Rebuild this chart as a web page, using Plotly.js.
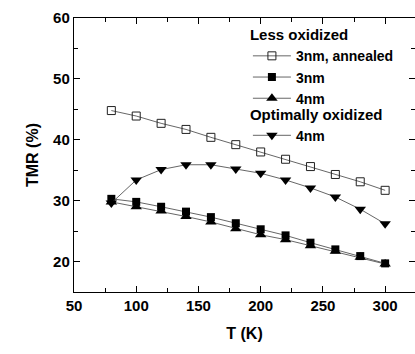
<!DOCTYPE html>
<html><head><meta charset="utf-8">
<script src="https://cdn.plot.ly/plotly-3.0.1.min.js"></script>
<style>html,body{margin:0;padding:0;background:#fff}#chart{width:415px;height:354px}</style>
</head><body><div id="chart"></div>
<script>
const temps = [80,100,120,140,160,180,200,220,240,260,280,300];
const annealed3nm = [44.8,43.9,42.7,41.7,40.4,39.2,38.0,36.8,35.6,34.3,33.1,31.7];
const less3nm = [30.3,29.8,29.0,28.2,27.3,26.3,25.3,24.3,23.1,22.0,20.9,19.7];
const less4nm = [29.8,29.0,28.3,27.4,26.5,25.4,24.4,23.6,22.6,21.7,20.7,19.6];
const opt4nm = [29.6,33.4,35.1,35.9,35.9,35.2,34.5,33.4,32.1,30.6,28.6,26.2];
const xTicks = [50,100,150,200,250,300];
const yTicks = [20,30,40,50,60];

const FONT = 'Liberation Sans, Arial, sans-serif';
const lineStyle = {color:'#555', width:0.9};
const traces = [
  {x:temps, y:annealed3nm, name:'3nm, annealed', mode:'lines+markers', legend:'legend',
   line:lineStyle, marker:{symbol:'square-open', size:8, color:'#222', line:{width:1}}},
  {x:temps, y:less3nm, name:'3nm', mode:'lines+markers', legend:'legend',
   line:lineStyle, marker:{symbol:'square', size:8, color:'#000'}},
  {x:temps, y:less4nm, name:'4nm', mode:'lines+markers', legend:'legend',
   line:lineStyle, marker:{symbol:'triangle-up', size:10, color:'#000'}},
  {x:temps, y:opt4nm, name:'4nm', mode:'lines+markers', legend:'legend2',
   line:lineStyle, marker:{symbol:'triangle-down', size:10, color:'#000'}}
];
const axisCommon = {
  showline:true, linecolor:'#000', linewidth:1.2, mirror:'ticks', ticks:'inside',
  ticklen:6, tickwidth:1, tickcolor:'#000', showgrid:false, zeroline:false,
  tickfont:{family:FONT, size:15, weight:'bold', color:'#000'}
};
const titleFont = {family:FONT, size:15, weight:'bold', color:'#000'};
const legendCommon = {
  font:{family:FONT, size:14, weight:'bold', color:'#000'},
  bgcolor:'rgba(0,0,0,0)', borderwidth:0, itemwidth:38,
  xanchor:'left', yanchor:'top', tracegroupgap:0
};
const layout = {
  width:415, height:354,
  margin:{l:74, r:0, t:18, b:62},
  paper_bgcolor:'#fff', plot_bgcolor:'#fff',
  xaxis: Object.assign({}, axisCommon, {
    range:[50,324], tickvals:xTicks, ticktext:xTicks.map(String),
    minor:{tickvals:[75,125,175,225,275], ticklen:4, tickcolor:'#000', ticks:'inside'},
    title:{text:'T (K)', font:{family:FONT, size:16, weight:'bold', color:'#000'}, standoff:14}
  }),
  yaxis: Object.assign({}, axisCommon, {
    range:[15,60], tickvals:yTicks, ticktext:yTicks.map(String),
    minor:{tickvals:[25,35,45,55], ticklen:4, tickcolor:'#000', ticks:'inside'},
    title:{text:'TMR (%)', font:{family:FONT, size:16, weight:'bold', color:'#000'}, standoff:10}
  }),
  showlegend:true,
  legend: Object.assign({}, legendCommon, {x:0.51, y:0.99,
    title:{text:'Less oxidized', font:titleFont}}),
  legend2: Object.assign({}, legendCommon, {x:0.51, y:0.70,
    title:{text:'Optimally oxidized', font:titleFont}})
};
Plotly.newPlot('chart', traces, layout, {displayModeBar:false, staticPlot:true});
</script></body></html>
